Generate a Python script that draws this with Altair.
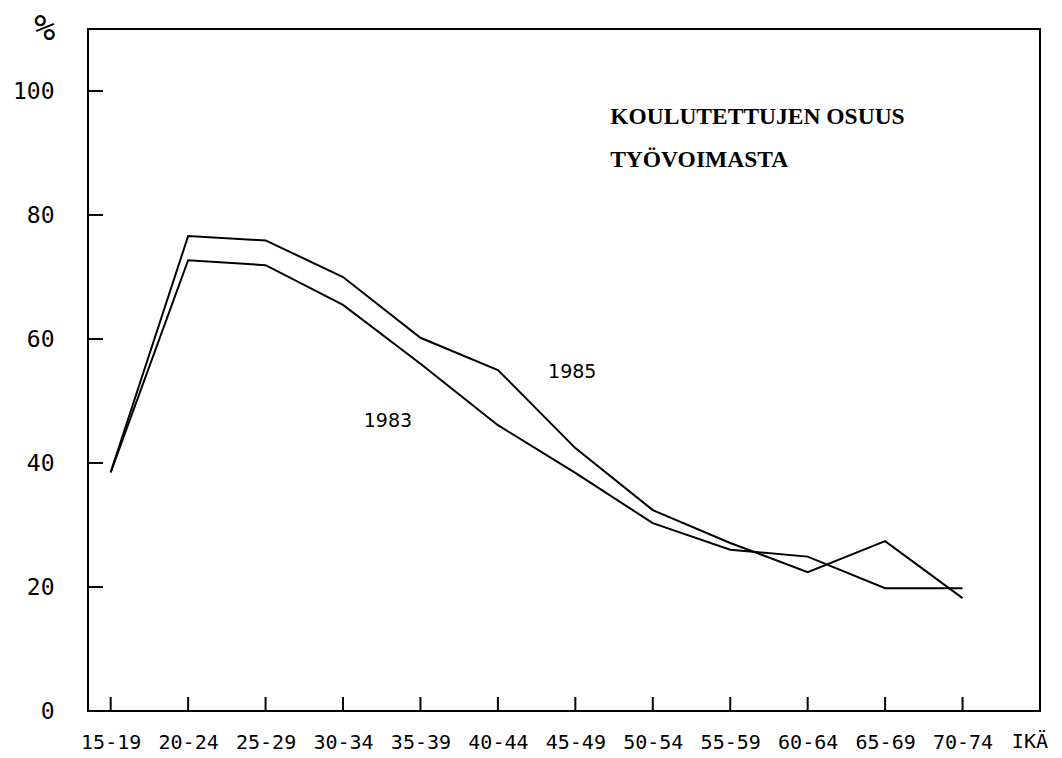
import json
import altair as alt
import pandas as pd

# ---- data ----
AGES = ["15-19", "20-24", "25-29", "30-34", "35-39", "40-44",
        "45-49", "50-54", "55-59", "60-64", "65-69", "70-74"]
Y1983 = [38.5, 72.7, 71.9, 65.5, 56.0, 46.1, 38.4, 30.3, 26.0, 24.9, 19.8, 19.8]
Y1985 = [38.5, 76.6, 75.9, 70.0, 60.2, 55.0, 42.4, 32.4, 27.1, 22.4, 27.4, 18.2]
Y_TICKS = [0, 20, 40, 60, 80, 100]
TICK_MARKS_Y = [20, 40, 60, 80, 100]
SERIES = ["1983", "1985"]
TITLE_LINES = ["KOULUTETTUJEN OSUUS", "TYÖVOIMASTA"]
X_AXIS_END_LABEL = "IKÄ"
Y_UNIT = "%"

X_MIN, X_MAX = -0.293, 12
Y_MIN, Y_MAX = 0, 110
W, H = 952, 682

rows = []
for i, a in enumerate(AGES):
    rows.append({"idx": i, "age": a, "year": SERIES[0], "v": Y1983[i]})
    rows.append({"idx": i, "age": a, "year": SERIES[1], "v": Y1985[i]})
df = pd.DataFrame(rows)

xs = alt.Scale(domain=[X_MIN, X_MAX], nice=False, zero=False)
ys = alt.Scale(domain=[Y_MIN, Y_MAX], nice=False, zero=False)

label_expr = json.dumps(AGES) + "[datum.value]"

lines = alt.Chart(df).mark_line(color="black", strokeWidth=2).encode(
    x=alt.X("idx:Q", scale=xs,
            axis=alt.Axis(values=list(range(len(AGES))), labelExpr=label_expr,
                          title=None, grid=False, ticks=False, domain=False,
                          labelFont="DejaVu Sans Mono", labelFontSize=20,
                          labelColor="black", labelPadding=31,
                          labelBaseline="middle", labelOverlap=False,
                          labelFlush=False)),
    y=alt.Y("v:Q", scale=ys,
            axis=alt.Axis(values=Y_TICKS, title=None, grid=False, ticks=False,
                          domain=False, labelFont="DejaVu Sans Mono",
                          labelFontSize=23, labelColor="black",
                          labelPadding=34, labelBaseline="middle")),
    detail="year:N",
)

# inward ticks
px_x = (X_MAX - X_MIN) / W
px_y = (Y_MAX - Y_MIN) / H
xt = pd.DataFrame({"idx": list(range(len(AGES)))})
xt["y0"] = 0
xt["y1"] = 14 * px_y
xticks = alt.Chart(xt).mark_rule(color="black", strokeWidth=2).encode(
    x=alt.X("idx:Q", scale=xs), y=alt.Y("y0:Q", scale=ys), y2="y1:Q")

yt = pd.DataFrame({"v": TICK_MARKS_Y})
yt["x0"] = X_MIN
yt["x1"] = X_MIN + 15 * px_x
yticks = alt.Chart(yt).mark_rule(color="black", strokeWidth=2).encode(
    y=alt.Y("v:Q", scale=ys), x=alt.X("x0:Q", scale=xs), x2="x1:Q")

# series labels
lab = pd.DataFrame({"t": SERIES, "idx": [3.58, 5.96], "v": [46.8, 54.7]})
labels = alt.Chart(lab).mark_text(font="DejaVu Sans", fontSize=19,
                                  color="black", align="center",
                                  baseline="middle").encode(
    x=alt.X("idx:Q", scale=xs), y=alt.Y("v:Q", scale=ys), text="t:N")

# title block
tt = pd.DataFrame({"t": TITLE_LINES, "idx": [6.45, 6.45], "v": [95.8, 88.9]})
title = alt.Chart(tt).mark_text(font="Liberation Serif",
                                fontWeight="bold", fontSize=23.5, color="black",
                                align="left", baseline="middle").encode(
    x=alt.X("idx:Q", scale=xs), y=alt.Y("v:Q", scale=ys), text="t:N")

# '%' and 'IKÄ'
pc = pd.DataFrame({"t": [Y_UNIT], "idx": [-0.85], "v": [110.0]})
percent = alt.Chart(pc).mark_text(font="DejaVu Sans Mono", fontSize=35,
                                  color="black", align="center",
                                  baseline="middle").encode(
    x=alt.X("idx:Q", scale=xs), y=alt.Y("v:Q", scale=ys), text="t:N")

ik = pd.DataFrame({"t": [X_AXIS_END_LABEL], "idx": [11.87], "v": [-5.0]})
ika = alt.Chart(ik).mark_text(font="DejaVu Sans Mono", fontSize=20,
                              color="black", align="center",
                              baseline="middle").encode(
    x=alt.X("idx:Q", scale=xs), y=alt.Y("v:Q", scale=ys), text="t:N")

chart = alt.layer(lines, xticks, yticks, labels, title, percent, ika).properties(
    width=W, height=H,
    autosize=alt.AutoSizeParams(type="none"),
    padding={"left": 80, "top": 21, "right": 14, "bottom": 45},
    background="white",
).configure_view(stroke="black", strokeWidth=2)

chart.save("out.html", embed_options={"renderer": "svg", "actions": False})
